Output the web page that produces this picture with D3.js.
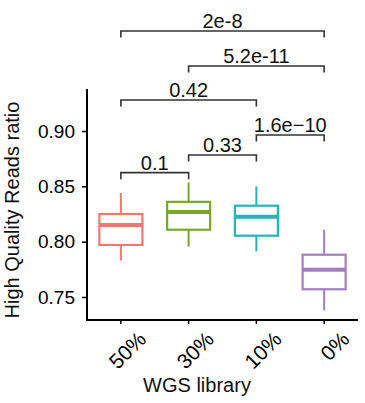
<!DOCTYPE html>
<html>
<head>
<meta charset="utf-8">
<script src="https://cdn.jsdelivr.net/npm/d3@7"></script>
<style>
  html, body { margin: 0; padding: 0; background: #fff; }
  svg { display: block; font-family: "Liberation Sans", Arial, sans-serif; }
</style>
</head>
<body>
<svg id="chart" width="365" height="403"></svg>
<script>
// ---- data ----
const categories = ["50%", "30%", "10%", "0%"];
const whiskerLow  = [0.783, 0.7955, 0.7913, 0.738];
const q1          = [0.797, 0.8108, 0.8054, 0.757];
const medians     = [0.815, 0.8268, 0.8226, 0.7747];
const q3          = [0.825, 0.836, 0.8325, 0.7882];
const whiskerHigh = [0.844, 0.8536, 0.850, 0.8108];
const colors = ["#EE7A6E", "#7AA82A", "#22B6BB", "#A57DC1"];

const yTicks = [0.75, 0.80, 0.85, 0.90];
const yTickLabels = ["0.75", "0.80", "0.85", "0.90"];

// comparisons: from, to, bracket height (data units), label
const compFrom   = ["50%", "30%", "10%", "50%", "30%", "50%"];
const compTo     = ["30%", "10%", "0%", "10%", "0%", "0%"];
const compY      = [0.8624, 0.8784, 0.8964, 0.9281, 0.9588, 0.9904];
const compLabels = ["0.1", "0.33", "1.6e\u221210", "0.42", "5.2e-11", "2e-8"];

const xTitle = "WGS library";
const yTitle = "High Quality Reads ratio";

// ---- layout ----
const svg = d3.select("#chart");
const mLeft = 87, mRight = 358, mTop = 89, mBottom = 320;

const x = d3.scaleBand().domain(categories).range([mLeft, mRight]).padding(0);
const y = d3.scaleLinear().domain([0.7292, 0.938]).range([mBottom, mTop]);
const cx = c => x(c) + x.bandwidth() / 2;
const boxW = x.bandwidth() * 0.635;

// boxes
const boxes = categories.map((c, i) => ({
  c, lo: whiskerLow[i], q1: q1[i], med: medians[i], q3: q3[i], hi: whiskerHigh[i], col: colors[i]
}));

const g = svg.append("g");
boxes.forEach(b => {
  const gg = g.append("g");
  gg.append("line").attr("x1", cx(b.c)).attr("x2", cx(b.c))
    .attr("y1", y(b.hi)).attr("y2", y(b.q3))
    .attr("stroke", b.col).attr("stroke-width", 2);
  gg.append("line").attr("x1", cx(b.c)).attr("x2", cx(b.c))
    .attr("y1", y(b.q1)).attr("y2", y(b.lo))
    .attr("stroke", b.col).attr("stroke-width", 2);
  gg.append("rect").attr("x", cx(b.c) - boxW / 2).attr("width", boxW)
    .attr("y", y(b.q3)).attr("height", y(b.q1) - y(b.q3))
    .attr("fill", "#fff").attr("stroke", b.col).attr("stroke-width", 2.2);
  gg.append("line").attr("x1", cx(b.c) - boxW / 2).attr("x2", cx(b.c) + boxW / 2)
    .attr("y1", y(b.med)).attr("y2", y(b.med))
    .attr("stroke", b.col).attr("stroke-width", 4);
});

// axes
const yAxis = d3.axisLeft(y).tickValues(yTicks)
  .tickFormat((d, i) => yTickLabels[i]).tickSize(5).tickPadding(7);
const ya = svg.append("g").attr("transform", `translate(${mLeft},0)`).call(yAxis);
ya.select(".domain").remove();
ya.append("line").attr("x1", 0).attr("x2", 0).attr("y1", mTop).attr("y2", mBottom + 1)
  .attr("stroke", "#000").attr("stroke-width", 2);
ya.selectAll(".tick line").attr("stroke", "#000").attr("stroke-width", 1.5);
ya.selectAll(".tick text").attr("fill", "#000").style("font-size", "19px");

const xAxis = d3.axisBottom(x).tickSize(4).tickPadding(3);
const xa = svg.append("g").attr("transform", `translate(0,${mBottom})`).call(xAxis);
xa.select(".domain").remove();
xa.append("line").attr("x1", mLeft - 1).attr("x2", mRight).attr("y1", 0).attr("y2", 0)
  .attr("stroke", "#000").attr("stroke-width", 2);
xa.selectAll(".tick line").attr("stroke", "#000").attr("stroke-width", 1.5);
xa.selectAll(".tick text")
  .attr("fill", "#000").style("font-size", "21px")
  .attr("text-anchor", "end")
  .attr("transform", "translate(16,10) rotate(-45)")
  .attr("dy", "0.71em").attr("y", 0).attr("x", 0);

// comparison brackets
const tickDown = 6.5;
compFrom.forEach((f, i) => {
  const x1 = cx(f), x2 = cx(compTo[i]), yy = y(compY[i]);
  svg.append("path")
    .attr("d", `M${x1},${yy + tickDown}V${yy}H${x2}V${yy + tickDown}`)
    .attr("fill", "none").attr("stroke", "#333").attr("stroke-width", 1.6);
  svg.append("text")
    .attr("x", (x1 + x2) / 2).attr("y", yy - 3)
    .attr("text-anchor", "middle").style("font-size", "20px").attr("fill", "#111")
    .text(compLabels[i]);
});

// titles
svg.append("text").attr("x", 197).attr("y", 392)
  .attr("text-anchor", "middle").style("font-size", "20px").attr("fill", "#111")
  .text(xTitle);
svg.append("text").attr("transform", "translate(19,210) rotate(-90)")
  .attr("text-anchor", "middle").style("font-size", "20px").attr("fill", "#111")
  .text(yTitle);
</script>
</body>
</html>
